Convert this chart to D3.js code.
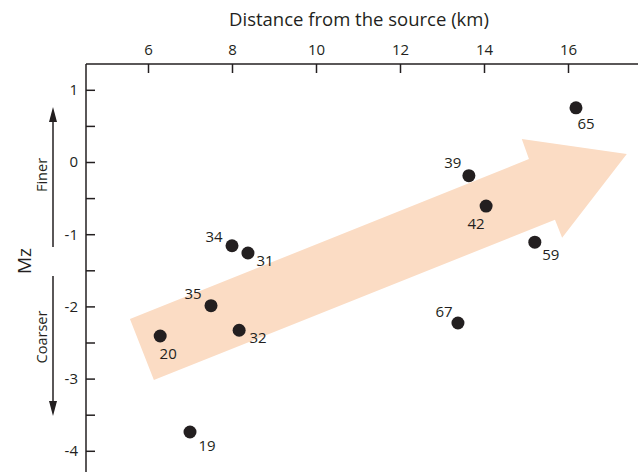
<!DOCTYPE html>
<html>
<head>
<meta charset="utf-8">
<script src="https://cdn.jsdelivr.net/npm/d3@7"></script>
<style>
  body { margin: 0; background: #fff; }
  text { font-family: "Open Sans", sans-serif; fill: #231f20; }
</style>
</head>
<body>
<svg></svg>
<script>
// sample sites: distance (km), Mz and site number
var distance = [16.19, 13.64, 14.05, 15.21, 13.38, 8.0, 8.38, 7.5, 8.17, 6.29, 7.0];
var mz = [0.75, -0.19, -0.61, -1.11, -2.23, -1.16, -1.26, -1.99, -2.33, -2.41, -3.74];
var site = ["65", "39", "42", "59", "67", "34", "31", "35", "32", "20", "19"];

var xTicks = [6, 8, 10, 12, 14, 16];
var yTicks = [1, 0.5, 0, -0.5, -1, -1.5, -2, -2.5, -3, -3.5, -4];

// trend arrow outline, in data units
var arrowX = [5.57, 6.14, 15.69, 15.86, 17.40, 14.90, 15.07];
var arrowY = [-2.175, -3.02, -0.80, -1.05, 0.11, 0.32, 0.04];

var svgWidth = 638;
var svgHeight = 472;
var marginLeft = 86, marginTop = 64;

// label offset from its dot, px (layout only)
var labelShift = [[10, 16], [-16, -13], [-10, 18], [16, 12], [-14, -11],
                  [-18, -9], [17, 8], [-18, -12], [19, 7], [8, 18], [17, 14]];

var svg = d3.select("svg")
    .attr("width", svgWidth)
    .attr("height", svgHeight);

var x = d3.scaleLinear().domain([6, 16]).range([148, 568]);
var y = d3.scaleLinear().domain([0, -1]).range([162, 234.2]);

// big pale arrow behind the points
var arrowPts = arrowX.map(function (d, i) { return [x(d), y(arrowY[i])]; });
svg.append("polygon")
    .attr("points", arrowPts.join(" "))
    .attr("fill", "#fbdcc4");

// top axis
var xAxis = svg.append("g")
    .attr("transform", "translate(0," + marginTop + ")")
    .call(d3.axisTop(x).tickValues(xTicks).tickSizeInner(-9).tickSizeOuter(0).tickPadding(9));
xAxis.select(".domain").attr("d", "M" + marginLeft + ",0H" + svgWidth);

// left axis, half steps get a tick but no label
var yAxis = svg.append("g")
    .attr("transform", "translate(" + marginLeft + ",0)")
    .call(d3.axisLeft(y).tickValues(yTicks).tickSizeInner(-9).tickSizeOuter(0).tickPadding(8)
        .tickFormat(function (d) { return d % 1 === 0 ? d : ""; }));
yAxis.select(".domain").attr("d", "M0," + marginTop + "V" + svgHeight);

svg.selectAll(".domain, .tick line")
    .attr("stroke", "#231f20")
    .attr("stroke-width", 1.5);
svg.selectAll(".tick text")
    .attr("font-size", 15)
    .attr("font-family", "Open Sans, sans-serif")
    .attr("fill", "#231f20");

// titles
svg.append("text")
    .attr("x", 359).attr("y", 26)
    .attr("text-anchor", "middle")
    .attr("font-size", 18.5)
    .text("Distance from the source (km)");

svg.append("text")
    .attr("transform", "translate(31,261) rotate(-90)")
    .attr("text-anchor", "middle")
    .attr("font-size", 19)
    .text("Mz");

svg.append("text")
    .attr("transform", "translate(47,175) rotate(-90)")
    .attr("text-anchor", "middle")
    .attr("font-size", 14.5)
    .text("Finer");

svg.append("text")
    .attr("transform", "translate(47,337) rotate(-90)")
    .attr("text-anchor", "middle")
    .attr("font-size", 14.5)
    .text("Coarser");

// finer / coarser arrows
svg.append("line")
    .attr("x1", 53).attr("x2", 53).attr("y1", 247).attr("y2", 118)
    .attr("stroke", "#231f20").attr("stroke-width", 1.5);
svg.append("path")
    .attr("d", "M53,107L49,122L57,122Z")
    .attr("fill", "#231f20");
svg.append("line")
    .attr("x1", 53).attr("x2", 53).attr("y1", 276).attr("y2", 405)
    .attr("stroke", "#231f20").attr("stroke-width", 1.5);
svg.append("path")
    .attr("d", "M53,416L49,401L57,401Z")
    .attr("fill", "#231f20");

// points
svg.selectAll("circle")
    .data(distance)
    .enter()
    .append("circle")
    .attr("cx", function (d) { return x(d); })
    .attr("cy", function (d, i) { return y(mz[i]); })
    .attr("r", 6.5)
    .attr("fill", "#231f20");

svg.selectAll(".lbl")
    .data(distance)
    .enter()
    .append("text")
    .attr("class", "lbl")
    .attr("x", function (d, i) { return x(d) + labelShift[i][0]; })
    .attr("y", function (d, i) { return y(mz[i]) + labelShift[i][1]; })
    .attr("dy", "0.36em")
    .attr("text-anchor", "middle")
    .attr("font-size", 15)
    .text(function (d, i) { return site[i]; });
</script>
</body>
</html>
